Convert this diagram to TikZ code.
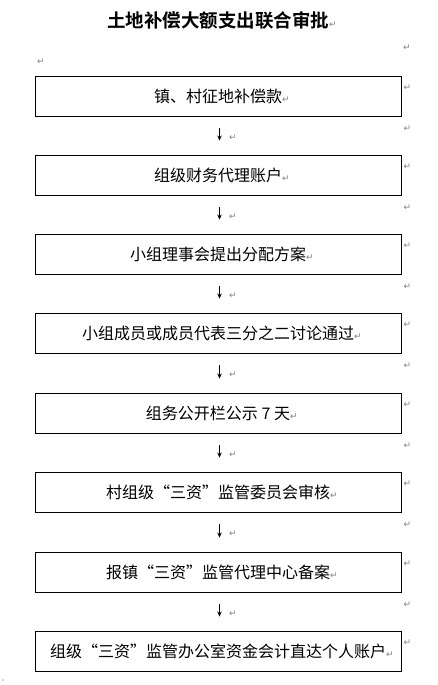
\documentclass[tikz,border=0pt]{standalone}
\usepackage{fontspec}
\usetikzlibrary{arrows.meta}
\setmainfont{Noto Sans CJK SC}
\newfontfamily\cjk{Noto Sans CJK SC}
\newfontfamily\cjkbold{Noto Sans CJK SC Bold}
\newfontfamily\dejavu{DejaVu Sans}
\definecolor{markgray}{HTML}{808080}
\newcommand\retmark{\textcolor{markgray}{\fontsize{9}{9}\selectfont\dejavu ↵}}
\newcommand\lqq{{\addfontfeatures{CharacterWidth=Full}“}}
\newcommand\rqq{{\addfontfeatures{CharacterWidth=Full}”}}
\begin{document}
\begin{tikzpicture}[x=1pt,y=1pt,
  stepbox/.style={draw=black,line width=0.9pt,minimum width=366pt,minimum height=40pt,inner sep=0pt,
    font=\fontsize{16}{16}\selectfont\cjk},
  arr/.style={line width=0.8pt,-{Stealth[length=5pt,width=4.5pt]},shorten <=12pt,shorten >=14pt},
  rm/.style={anchor=west,inner sep=0pt}]
\useasboundingbox (0,0) rectangle (437,-685);
\node[inner sep=0pt,font=\fontsize{18.5}{18.5}\selectfont\cjkbold] (title) at (218,-20) {土地补偿大额支出联合审批\rlap{\retmark}};
\node[rm] (m0a) at (403,-48) {\retmark};
\node[rm] (m0b) at (37,-62) {\retmark};
\node[stepbox] (b1) at (218,-96) {镇、村征地补偿款\rlap{\retmark}};
\node[stepbox] (b2) at (218,-175) {组级财务代理账户\rlap{\retmark}};
\node[stepbox] (b3) at (218,-254) {小组理事会提出分配方案\rlap{\retmark}};
\node[stepbox] (b4) at (218,-333) {小组成员或成员代表三分之二讨论通过\rlap{\retmark}};
\node[stepbox] (b5) at (218,-413) {组务公开栏公示 7 天\rlap{\retmark}};
\node[stepbox] (b6) at (218,-492) {村组级\lqq 三资\rqq 监管委员会审核\rlap{\retmark}};
\node[stepbox] (b7) at (218,-572) {报镇\lqq 三资\rqq 监管代理中心备案\rlap{\retmark}};
\node[stepbox] (b8) at (218,-651) {组级\lqq 三资\rqq 监管办公室资金会计直达个人账户\rlap{\retmark}};
\foreach \i in {1,...,8}{
  \node[rm] (r\i) at ([xshift=2pt,yshift=-12pt]b\i.north east) {\retmark};
}
\foreach \i/\j in {1/2,2/3,3/4,4/5,5/6,6/7,7/8}{
  \draw[arr] ([xshift=1.5pt]b\i.south) -- ([xshift=1.5pt]b\j.north);
  \node[rm] (s\i) at ([xshift=2pt,yshift=-12pt]b\i.south east) {\retmark};
  \node[rm] (a\i) at ([xshift=11pt,yshift=-21pt]b\i.south) {\retmark};
}
\fill[black!70] (3,-680) circle (0.6);
\end{tikzpicture}
\end{document}
